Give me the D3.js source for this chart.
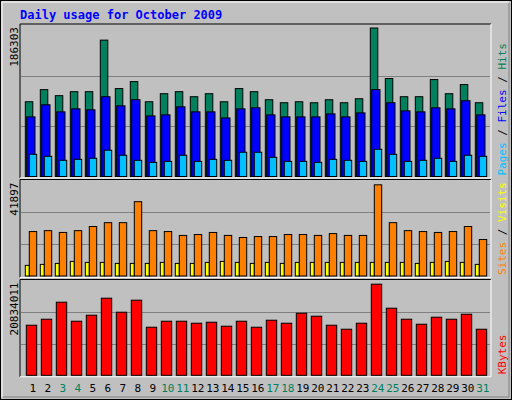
<!doctype html>
<html>
<head>
<meta charset="utf-8" />
<script src="https://d3js.org/d3.v7.min.js"></script>
<style>
  body { margin: 0; background: #fff; }
  text { font-family: "DejaVu Sans Mono", monospace; }
</style>
</head>
<body>
<div id="chart"></div>
<script>
const days = d3.range(1, 32)
const weekends = [3, 4, 10, 11, 17, 18, 24, 25, 31]
const hits = [91900,106800,99400,104300,104300,167700,108100,116700,91900,101800,104300,98100,101800,91900,108100,104300,94400,90700,91900,90700,94400,90700,95600,182600,120500,98100,98100,119200,101800,113000,90700]
const files = [73300,88200,79500,83200,82000,98100,86900,94400,74500,75800,85700,79500,79500,72000,83200,84500,75800,73300,73300,73300,77000,73300,78200,106800,90700,80700,79500,84500,83200,93200,75800]
const pages = [27300,24800,19900,21100,22400,32300,26100,19900,17400,18600,26100,18600,21100,19900,29800,29800,23600,18600,18600,17400,21100,19900,18600,33500,27300,18600,19900,22400,18600,26100,24800]
const visits = [19500,19900,19100,19900,21700,23400,23400,32600,19900,19500,17800,18200,19100,17800,16900,17300,17300,18200,18200,17800,18600,17800,17800,40000,23400,19900,19500,19100,19500,21700,16000]
const sites = [4660,5090,5530,6400,5970,5970,5530,5530,5530,5970,5530,5530,5970,6400,5970,5530,5970,5530,5970,5970,5970,5970,5970,5970,5970,5970,5530,5970,6400,5970,5090]
const kbytes = [11004,12324,16066,11884,13205,16946,13865,16506,10564,11884,11884,11444,11664,10784,11884,10564,12104,11444,13645,12985,11004,10124,11444,20027,14745,12324,11224,12765,12324,13425,10124].map(v => v * 1000)
const maxLabels = ["186303", "41897", "20834011"]

const W = 512, H = 400
const svg = d3.select("#chart").append("svg").attr("width", W).attr("height", H)
svg.append("rect").attr("x", 0.5).attr("y", 0.5).attr("width", W - 1).attr("height", H - 1)
  .attr("fill", "#c0c0c0").attr("stroke", "#000")
// bevel
svg.append("path").attr("d", "M2,397V2H509").attr("fill", "none").attr("stroke", "#fff")
svg.append("path").attr("d", "M3,397H509V3").attr("fill", "none").attr("stroke", "#808080")

svg.append("text").attr("x", 20).attr("y", 19).text("Daily usage for October 2009")
  .attr("fill", "#0000ff").attr("font-size", 12).attr("font-weight", "bold")

const x = d3.scaleBand().domain(days).range([20.3, 485.3]).paddingInner(0)

const panels = [
  { top: 25, bottom: 176.5, max: 186303, label: maxLabels[0],
    series: [[hits, "#00805c", 0, 7.5], [files, "#0000ff", 1.4, 8.3], [pages, "#00c0ff", 4, 7.4]],
    legend: [["Pages", "#00c0ff"], [" / ", "#000"], ["Files", "#0000ff"], [" / ", "#000"], ["Hits", "#00805c"]] },
  { top: 180.5, bottom: 276, max: 41897, label: maxLabels[1],
    series: [[sites, "#ffff00", 0, 4], [visits, "#ff8000", 4, 7.4]],
    legend: [["Sites", "#ff8000"], [" / ", "#000"], ["Visits", "#ffff00"]] },
  { top: 280.5, bottom: 375.3, max: 20834011, label: maxLabels[2],
    series: [[kbytes, "#ff0000", 1, 10.4]],
    legend: [["KBytes", "#ff0000"]] }
]

panels.forEach(p => {
  const y = d3.scaleLinear().domain([0, p.max]).range([p.bottom, p.top])
  svg.append("path").attr("d", `M20,${p.bottom + 1.5}V${p.top - 1}H491`).attr("fill", "none").attr("stroke", "#000")
  svg.append("path").attr("d", `M20,${p.bottom + 1.5}H491V${p.top - 1}`).attr("fill", "none").attr("stroke", "#fff")
  const g = svg.append("g")
  g.selectAll("line").data([p.max / 3, p.max * 2 / 3]).join("line")
    .attr("x1", 21).attr("x2", 490).attr("y1", d => Math.round(y(d)) + 0.5).attr("y2", d => Math.round(y(d)) + 0.5)
    .attr("stroke", "#808080")
  p.series.forEach(([vals, col, dx, w]) => {
    g.append("g").selectAll("rect").data(vals).join("rect")
      .attr("x", (d, i) => x(days[i]) + 5 + dx).attr("width", w)
      .attr("y", d => y(d)).attr("height", d => p.bottom - y(d))
      .attr("fill", col).attr("stroke", "#000").attr("stroke-width", 1)
  })
  svg.append("text").attr("transform", `translate(18,${p.top + 2}) rotate(-90)`)
    .attr("text-anchor", "end").attr("font-size", 11).attr("font-family", "DejaVu Sans").attr("fill", "#000").text(p.label)
  const t = svg.append("text").attr("transform", `translate(506,${p.bottom - 1}) rotate(-90)`)
    .attr("font-size", 11)
  p.legend.forEach(([s, c]) => t.append("tspan").attr("fill", c).text(s))
})

svg.append("g").selectAll("text").data(days).join("text")
  .attr("x", d => x(d) + x.bandwidth() / 2 + 5).attr("y", 392).attr("text-anchor", "middle")
  .attr("font-size", 11).attr("font-family", "DejaVu Sans")
  .attr("fill", d => weekends.includes(d) ? "#00805c" : "#000").text(d => d)
</script>
</body>
</html>
